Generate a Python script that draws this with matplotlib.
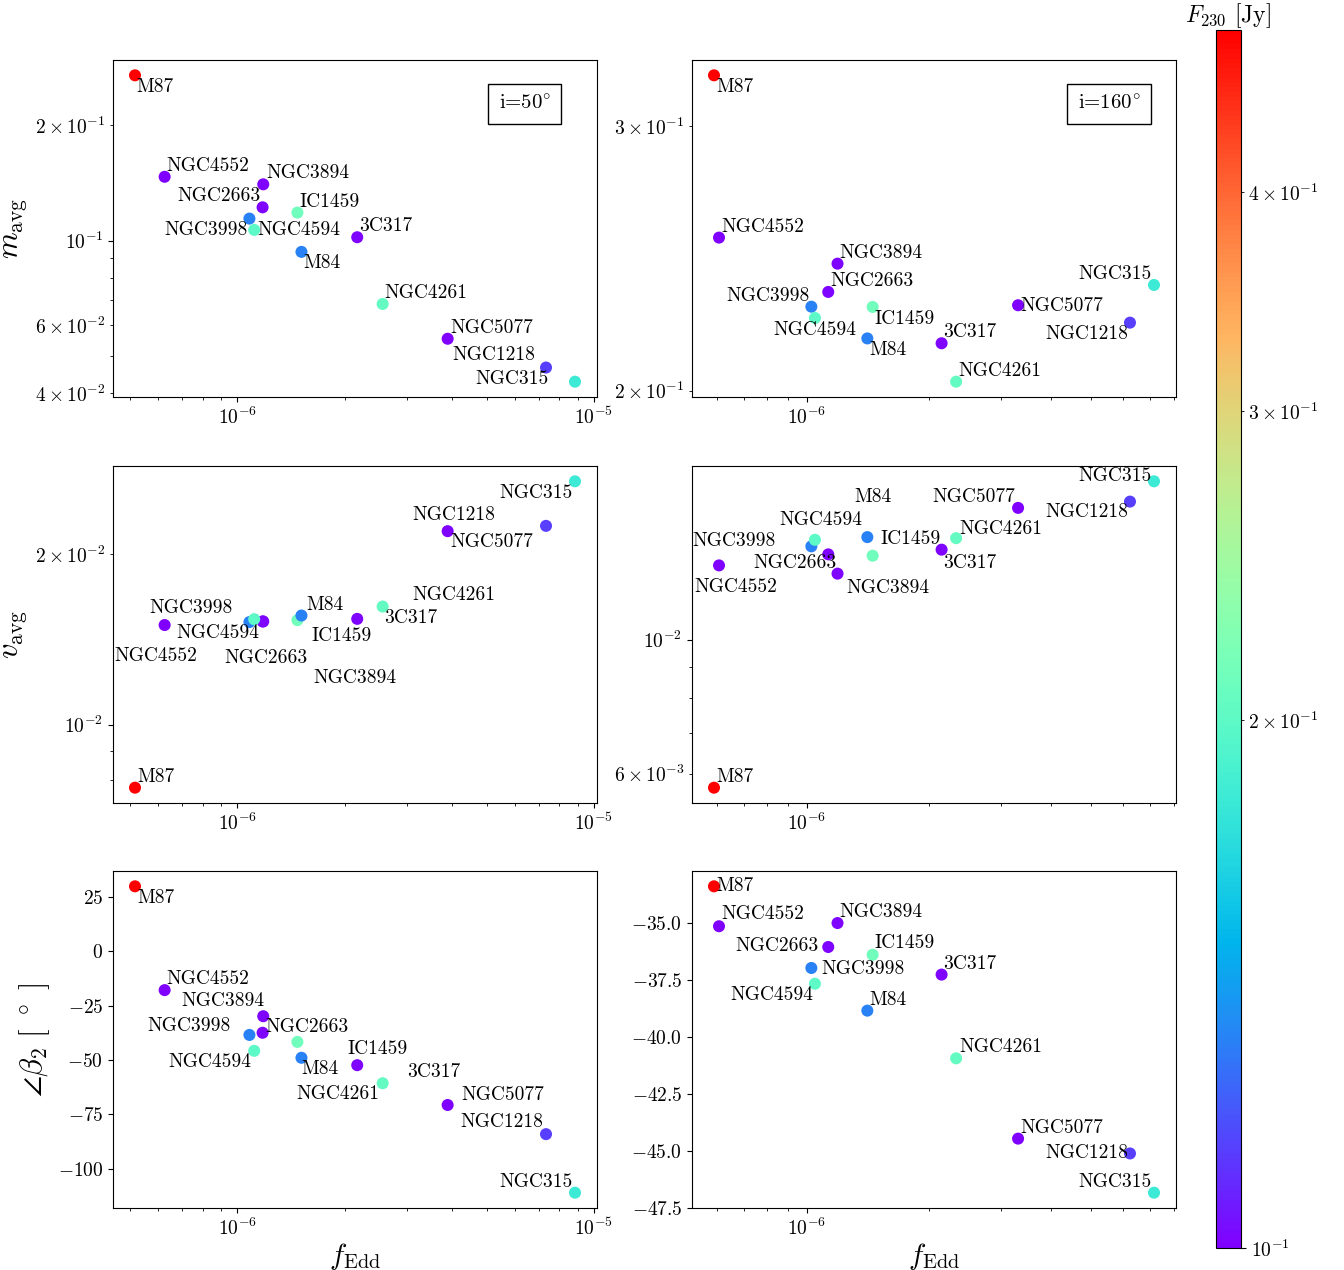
import matplotlib
matplotlib.use("Agg")
import matplotlib.pyplot as plt
from matplotlib.colors import LogNorm
from matplotlib.ticker import MultipleLocator
import numpy as np

plt.rcParams.update({
    "font.family": "serif",
    "font.serif": ["cmr10"],
    "mathtext.fontset": "cm",
    "axes.formatter.use_mathtext": True,
    "axes.unicode_minus": False,
    "font.size": 14,
})

# ---------------- data ----------------
names = ["M87", "NGC4552", "NGC3894", "NGC2663", "NGC3998", "NGC4594", "IC1459",
         "M84", "3C317", "NGC4261", "NGC5077", "NGC1218", "NGC315"]

f230 = [0.495, 0.100, 0.101, 0.101, 0.131, 0.199, 0.212,
        0.131, 0.101, 0.204, 0.100, 0.1137, 0.181]

fedd_i50 = [5.17e-7, 6.26e-7, 1.183e-6, 1.178e-6, 1.082e-6, 1.116e-6, 1.475e-6,
            1.514e-6, 2.17e-6, 2.557e-6, 3.89e-6, 7.34e-6, 8.85e-6]
fedd_i160 = [5.91e-7, 6.08e-7, 1.19e-6, 1.129e-6, 1.026e-6, 1.047e-6, 1.452e-6,
             1.409e-6, 2.146e-6, 2.33e-6, 3.31e-6, 6.24e-6, 7.15e-6]

mavg_i50 = [0.270, 0.1467, 0.1402, 0.1221, 0.1141, 0.1066, 0.1183,
            0.0934, 0.102, 0.0683, 0.0554, 0.0466, 0.0428]
mavg_i160 = [0.3243, 0.2529, 0.2430, 0.2327, 0.2275, 0.2236, 0.2274,
             0.2167, 0.2151, 0.2028, 0.2280, 0.2220, 0.2352]

vavg_i50 = [0.00774, 0.01499, 0.01521, 0.01521, 0.01517, 0.01535, 0.01529,
            0.01558, 0.01537, 0.01616, 0.02195, 0.02243, 0.02688]
vavg_i160 = [0.00569, 0.01327, 0.01286, 0.01384, 0.01427, 0.01463, 0.01377,
             0.01478, 0.01409, 0.01472, 0.01652, 0.01692, 0.01828]

beta2_i50 = [29.8, -17.9, -29.9, -37.5, -38.5, -45.8, -41.7,
             -49.0, -52.4, -60.7, -70.7, -84.1, -111.0]
beta2_i160 = [-33.40, -35.15, -35.01, -36.06, -36.98, -37.67, -36.40,
              -38.85, -37.27, -40.94, -44.46, -45.11, -46.83]

# ---------------- label placement (offset pixels, ha) ----------------
lab_TL = [(1, -17, 'left'), (2, 6, 'left'), (3, 6, 'left'), (-2, 6, 'right'), (-2, -16, 'right'),
          (3, -5, 'left'), (2, 6, 'left'), (2, -16, 'left'), (2, 6, 'left'), (2, 6, 'left'),
          (3, 6, 'left'), (-11, 8, 'right'), (-26, -2, 'right')]
lab_TR = [(2, -17, 'left'), (2, 6, 'left'), (2, 6, 'left'), (2, 6, 'left'), (-2, 6, 'right'),
          (0, -17, 'center'), (2, -17, 'left'), (2, -17, 'left'), (2, 6, 'left'), (2, 6, 'left'),
          (2, -6, 'left'), (-2, -16, 'right'), (-2, 6, 'right')]
lab_ML = [(2, 6, 'left'), (-9, -36, 'center'), (50, -62, 'left'), (3, -42, 'center'), (-17, 9, 'right'),
          (5, -19, 'right'), (14, -21, 'left'), (5, 6, 'left'), (27, -4, 'left'), (30, 7, 'left'),
          (3, -16, 'left'), (-51, 6, 'right'), (-2, -17, 'right')]
lab_MR = [(2, 6, 'left'), (17, -27, 'center'), (9, -19, 'left'), (8, -14, 'right'), (-36, 0, 'right'),
          (6, 15, 'center'), (8, 12, 'left'), (6, 35, 'center'), (2, -18, 'left'), (3, 4, 'left'),
          (-3, 6, 'right'), (-2, -15, 'right'), (-2, 0, 'right')]
lab_BL = [(2, -17, 'left'), (2, 6, 'left'), (1, 10, 'right'), (3, 1, 'left'), (-19, 4, 'right'),
          (-3, -16, 'right'), (50, -12, 'left'), (0, -16, 'left'), (50, -12, 'left'), (-3, -16, 'right'),
          (14, 5, 'left'), (-3, 7, 'right'), (-2, 6, 'right')]
lab_BR = [(2, -5, 'left'), (2, 7, 'left'), (2, 6, 'left'), (-10, -4, 'right'), (10, -6, 'left'),
          (-2, -16, 'right'), (2, 7, 'left'), (2, 6, 'left'), (2, 6, 'left'), (3, 6, 'left'),
          (2, 6, 'left'), (-2, -5, 'right'), (-2, 6, 'right')]

# ---------------- figure ----------------
W, H = 1344, 1270
fig = plt.figure(figsize=(W / 100, H / 100), dpi=100)

col_left = [113 / W, 692 / W]
ax_w = 484 / W
row_bottom = [1 - 397 / H, 1 - 803 / H, 1 - 1208 / H]
ax_h = 337 / H

norm = LogNorm(vmin=min(f230), vmax=max(f230))
cmap = plt.get_cmap("rainbow")

panels = [
    (0, 0, fedd_i50, mavg_i50, lab_TL, True),
    (0, 1, fedd_i160, mavg_i160, lab_TR, True),
    (1, 0, fedd_i50, vavg_i50, lab_ML, True),
    (1, 1, fedd_i160, vavg_i160, lab_MR, True),
    (2, 0, fedd_i50, beta2_i50, lab_BL, False),
    (2, 1, fedd_i160, beta2_i160, lab_BR, False),
]
ylabels = [r"$m_{\rm avg}$", r"$v_{\rm avg}$", r"$\angle\beta_2\ [\ ^\circ\ ]$"]

sc = None
for r, c, xs, ys, labs, logy in panels:
    ax = fig.add_axes([col_left[c], row_bottom[r], ax_w, ax_h])
    sc = ax.scatter(xs, ys, c=f230, cmap=cmap, norm=norm, s=75, edgecolors="none", zorder=3)
    ax.set_xscale("log")
    if logy:
        ax.set_yscale("log")
    else:
        ax.yaxis.set_major_locator(MultipleLocator(25 if c == 0 else 2.5))
    for name, x, y, (dx, dy, ha) in zip(names, xs, ys, labs):
        ax.annotate(name, (x, y), xytext=(dx, dy), textcoords="offset pixels",
                    ha=ha, va="baseline", fontsize=14)
    ax.tick_params(labelsize=14)
    if c == 0:
        ax.set_ylabel(ylabels[r], fontsize=22)
    if r == 2:
        ax.set_xlabel(r"$f_{\rm Edd}$", fontsize=21, labelpad=1)
    if r == 0:
        txt = r"i=50$^{\circ}$" if c == 0 else r"i=160$^{\circ}$"
        ax.text(0.797, 0.87, txt, transform=ax.transAxes, ha="left", va="center",
                fontsize=15, bbox=dict(boxstyle="square,pad=0.5", fc="white", ec="black", lw=1))

cax = fig.add_axes([1216 / W, 1 - 1248 / H, 25 / W, 1218 / H])
cb = fig.colorbar(sc, cax=cax)
cb.ax.tick_params(labelsize=14)
cb.ax.set_title(r"$F_{230}$ [Jy]", fontsize=17, pad=4)

fig.savefig("out.png", dpi=100)
